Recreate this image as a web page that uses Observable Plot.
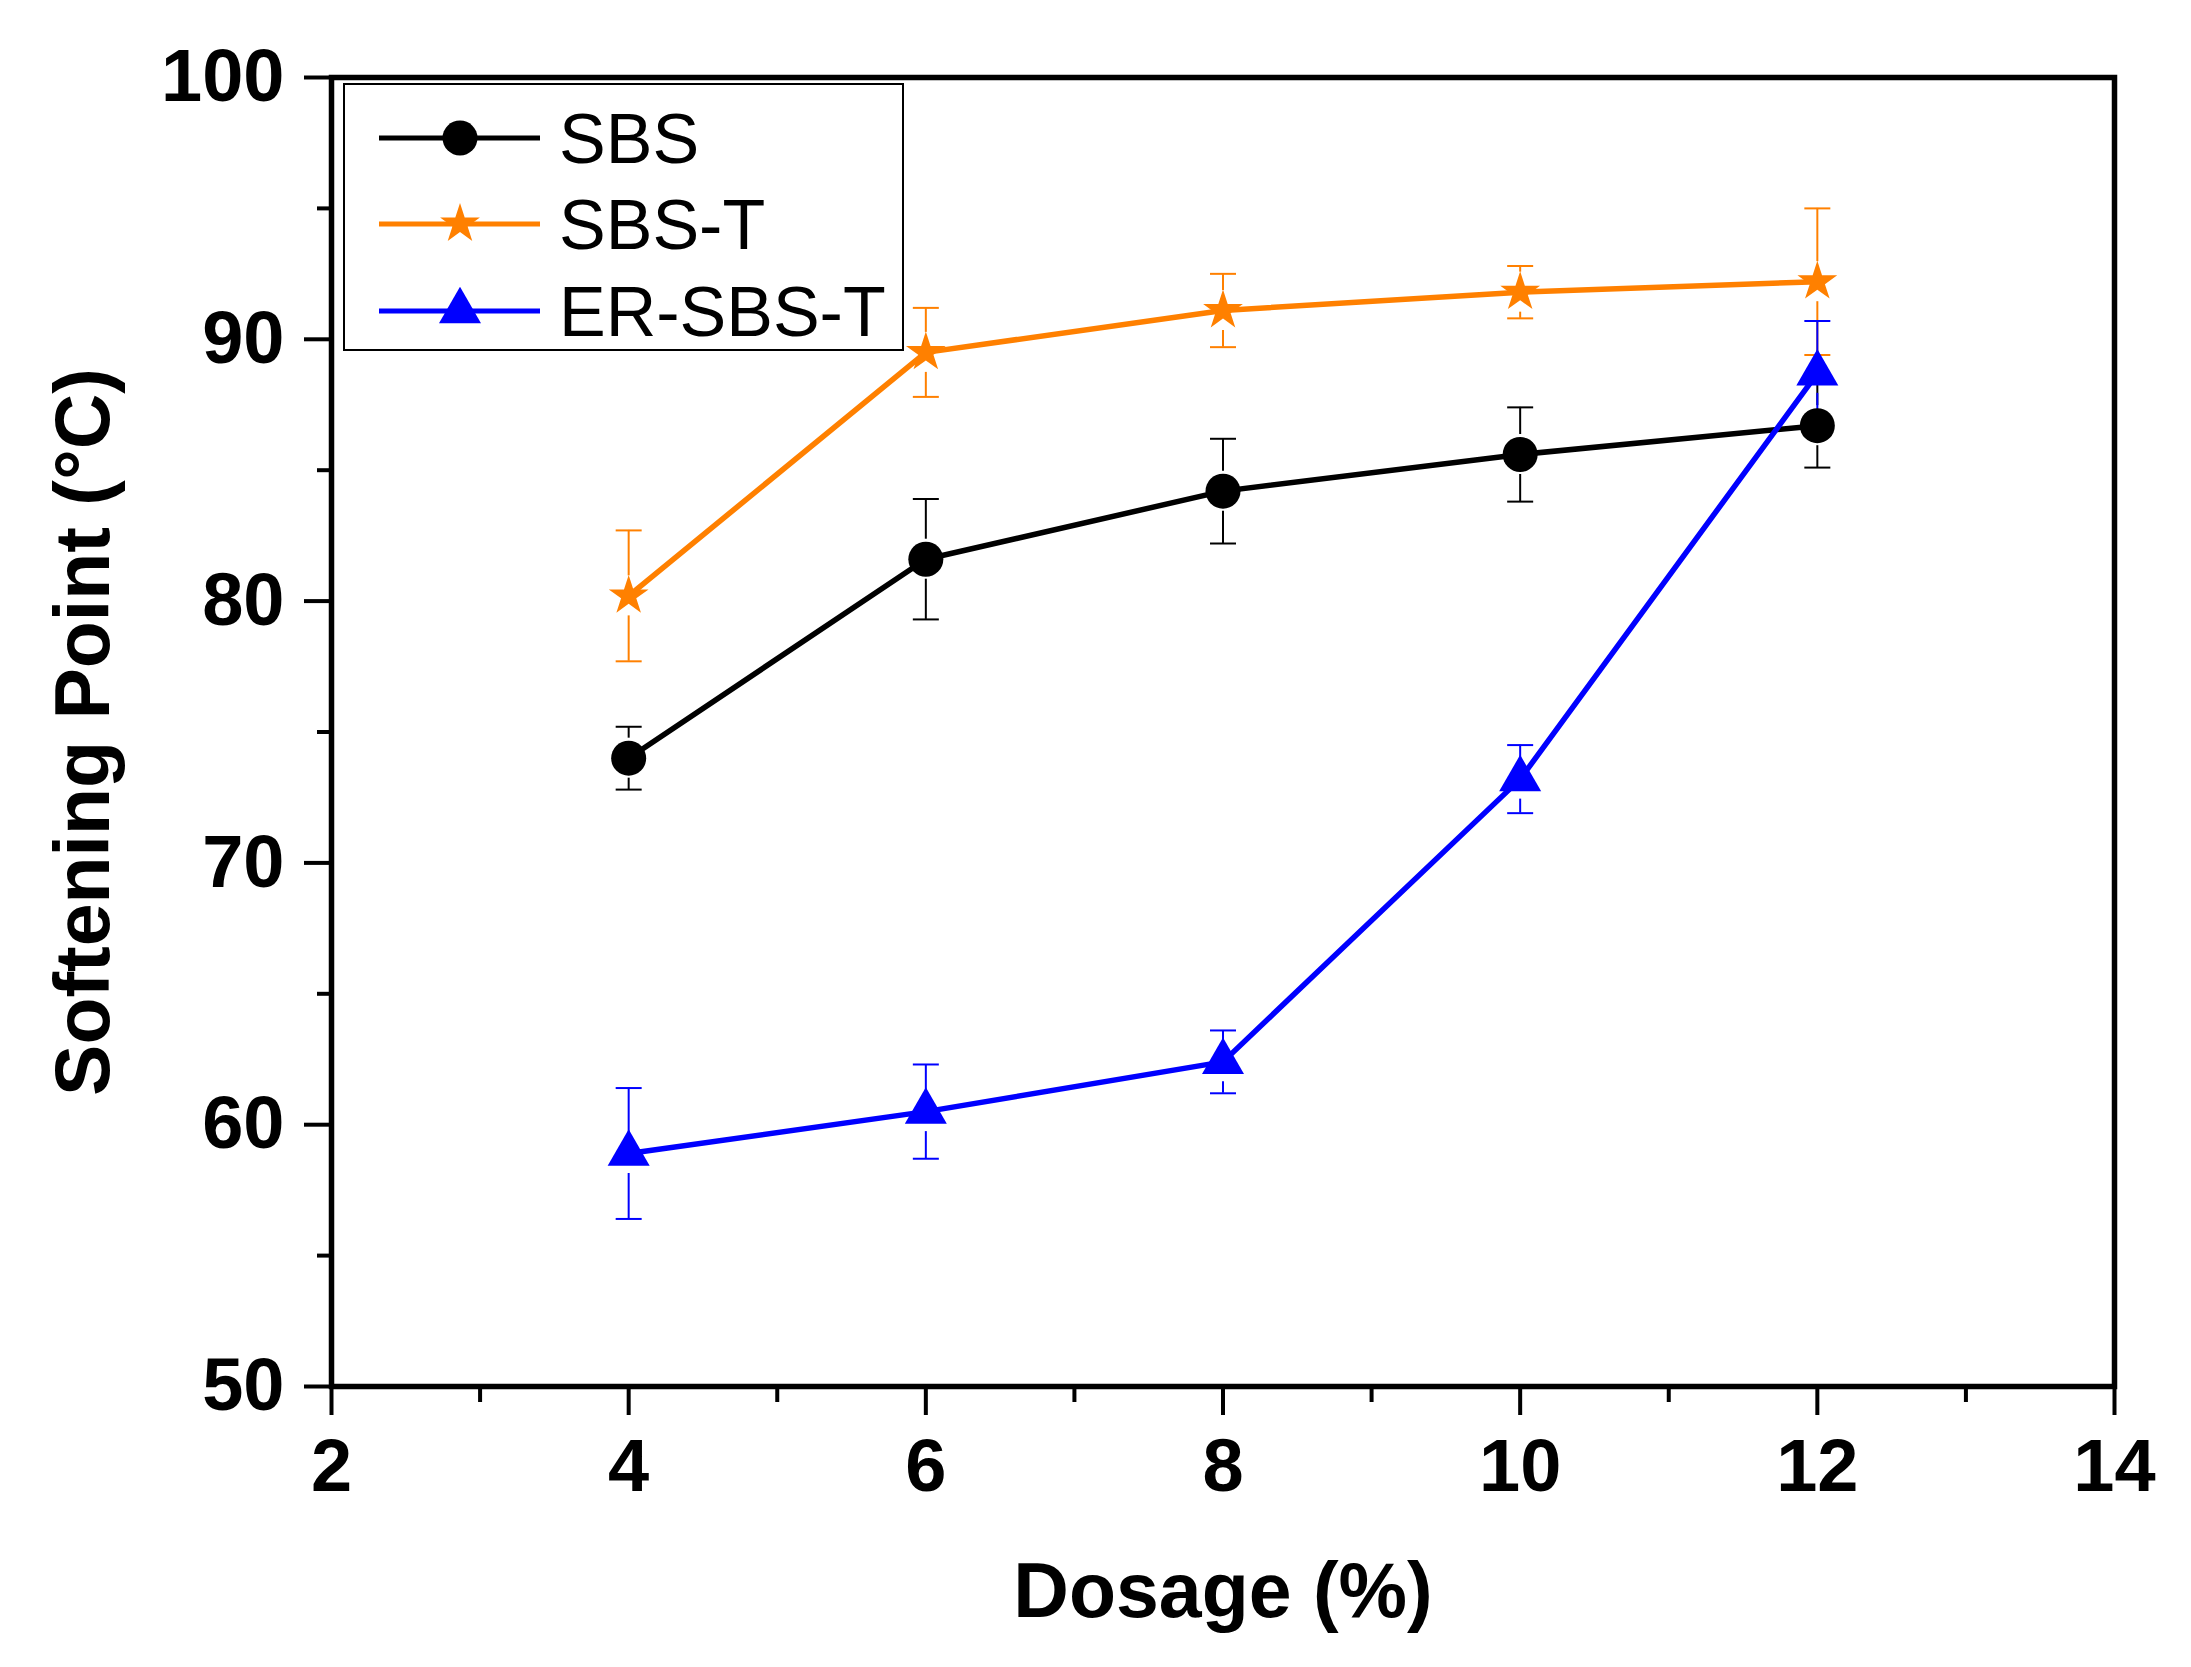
<!DOCTYPE html>
<html>
<head>
<meta charset="utf-8">
<script src="https://cdn.jsdelivr.net/npm/d3@7"></script>
<script src="https://cdn.jsdelivr.net/npm/@observablehq/plot@0.6"></script>
<style>
  html, body { margin: 0; padding: 0; background: #fff; }
  #wrap { position: relative; width: 2191px; height: 1667px; }
  #legend { position: absolute; left: 0; top: 0; pointer-events: none; }
</style>
</head>
<body>
<div id="wrap"></div>
<script>
// ---- data ----
const dosage = [4, 6, 8, 10, 12];
const sbs = [74.0, 81.6, 84.2, 85.6, 86.7];
const sbsErr = [1.2, 2.3, 2.0, 1.8, 1.6];
const sbsT = [80.2, 89.5, 91.1, 91.8, 92.2];
const sbsTErr = [2.5, 1.7, 1.4, 1.0, 2.8];
const erSbsT = [58.9, 60.5, 62.4, 73.2, 88.7];
const erSbsTErr = [2.5, 1.8, 1.2, 1.3, 2.0];
const seriesNames = ["SBS", "SBS-T", "ER-SBS-T"];
const seriesColors = ["#000000", "#FF8000", "#0000FF"];
const seriesSymbols = ["circle", "star", "triangle"];
const xMajorTicks = [2, 4, 6, 8, 10, 12, 14];
const xMinorTicks = [3, 5, 7, 9, 11, 13];
const yMajorTicks = [50, 60, 70, 80, 90, 100];
const yMinorTicks = [55, 65, 75, 85, 95];
const xLabel = "Dosage (%)";
const yLabel = "Softening Point (°C)";

const values = [sbs, sbsT, erSbsT];
const errors = [sbsErr, sbsTErr, erSbsTErr];
const rows = seriesNames.flatMap((name, i) =>
  dosage.map((x, j) => ({series: name, x, y: values[i][j], err: errors[i][j]})));

const symbolR = {circle: 17.5, star: 12.5, triangle: 15.6};
const gap = 20;
const cap = {draw(ctx, size) { const w = Math.sqrt(size / Math.PI); ctx.moveTo(-w, 0); ctx.lineTo(w, 0); }};
const font = "Liberation Sans, Arial, sans-serif";

const marks = [];
seriesNames.forEach((name, i) => {
  const data = rows.filter(d => d.series === name);
  const c = seriesColors[i];
  marks.push(
    // upper half of the error bar (gap next to the symbol)
    Plot.ruleX(data, {x: "x", y1: d => d.y + d.err, y2: "y", stroke: c, strokeWidth: 2, insetBottom: gap}),
    // lower half
    Plot.ruleX(data, {x: "x", y1: "y", y2: d => d.y - d.err, stroke: c, strokeWidth: 2, insetTop: gap}),
    Plot.dot(data, {x: "x", y: d => d.y + d.err, symbol: cap, r: 13, stroke: c, strokeWidth: 2, fill: "none"}),
    Plot.dot(data, {x: "x", y: d => d.y - d.err, symbol: cap, r: 13, stroke: c, strokeWidth: 2, fill: "none"})
  );
});
seriesNames.forEach((name, i) => {
  const data = rows.filter(d => d.series === name);
  marks.push(Plot.line(data, {x: "x", y: "y", stroke: seriesColors[i], strokeWidth: 5.5}));
});
seriesNames.forEach((name, i) => {
  const data = rows.filter(d => d.series === name);
  marks.push(Plot.dot(data, {x: "x", y: "y", symbol: seriesSymbols[i], r: symbolR[seriesSymbols[i]], fill: seriesColors[i], stroke: "none"}));
});

const chart = Plot.plot({
  width: 2191,
  height: 1667,
  marginLeft: 331,
  marginRight: 77,
  marginTop: 77,
  marginBottom: 281,
  style: {fontFamily: font, fontSize: "74px", fontWeight: "bold", color: "#000", background: "#fff"},
  x: {domain: [2, 14]},
  y: {domain: [50, 100]},
  marks: [
    Plot.axisX({ticks: xMinorTicks, tickSize: 16, strokeWidth: 4, tickFormat: () => "", label: null}),
    Plot.axisY({ticks: yMinorTicks, tickSize: 14, strokeWidth: 4, tickFormat: () => "", label: null}),
    Plot.axisX({ticks: xMajorTicks, tickSize: 29, tickPadding: 23, strokeWidth: 4, fontSize: 74, fontWeight: "bold", label: null}),
    Plot.axisY({ticks: yMajorTicks, tickSize: 27, tickPadding: 20, strokeWidth: 4, fontSize: 74, fontWeight: "bold", label: null}),
    Plot.axisX({ticks: [], tickSize: 0, fontSize: 77, fontWeight: "bold",
      label: xLabel, labelArrow: "none", labelAnchor: "center", labelOffset: 230}),
    Plot.axisY({ticks: [], tickSize: 0, fontSize: 77, fontWeight: "bold",
      label: yLabel, labelArrow: "none", labelAnchor: "center", labelOffset: 277}),
    ...marks,
    Plot.frame({stroke: "#000", strokeWidth: 5.5})
  ]
});
const wrap = document.getElementById("wrap");
wrap.appendChild(chart);

// ---- legend ----
const lg = d3.select(wrap).append("svg").attr("id", "legend").attr("width", 2191).attr("height", 1667);
lg.append("rect").attr("x", 344).attr("y", 84).attr("width", 559).attr("height", 266)
  .attr("fill", "#fff").attr("stroke", "#000").attr("stroke-width", 2);
const rowY = [138, 224, 311];
const d3sym = {circle: d3.symbolCircle, star: d3.symbolStar, triangle: d3.symbolTriangle};
seriesNames.forEach((name, i) => {
  const g = lg.append("g").attr("transform", `translate(0,${rowY[i]})`);
  g.append("line").attr("x1", 379).attr("x2", 540).attr("stroke", seriesColors[i]).attr("stroke-width", 5);
  const r = symbolR[seriesSymbols[i]];
  g.append("path").attr("transform", "translate(460,0)")
    .attr("d", d3.symbol(d3sym[seriesSymbols[i]], Math.PI * r * r)()).attr("fill", seriesColors[i]);
  g.append("text").attr("x", 559).attr("y", 0).attr("dy", "0.35em")
    .attr("font-family", font).attr("font-size", 70).attr("fill", "#000").text(name);
});
</script>
</body>
</html>
